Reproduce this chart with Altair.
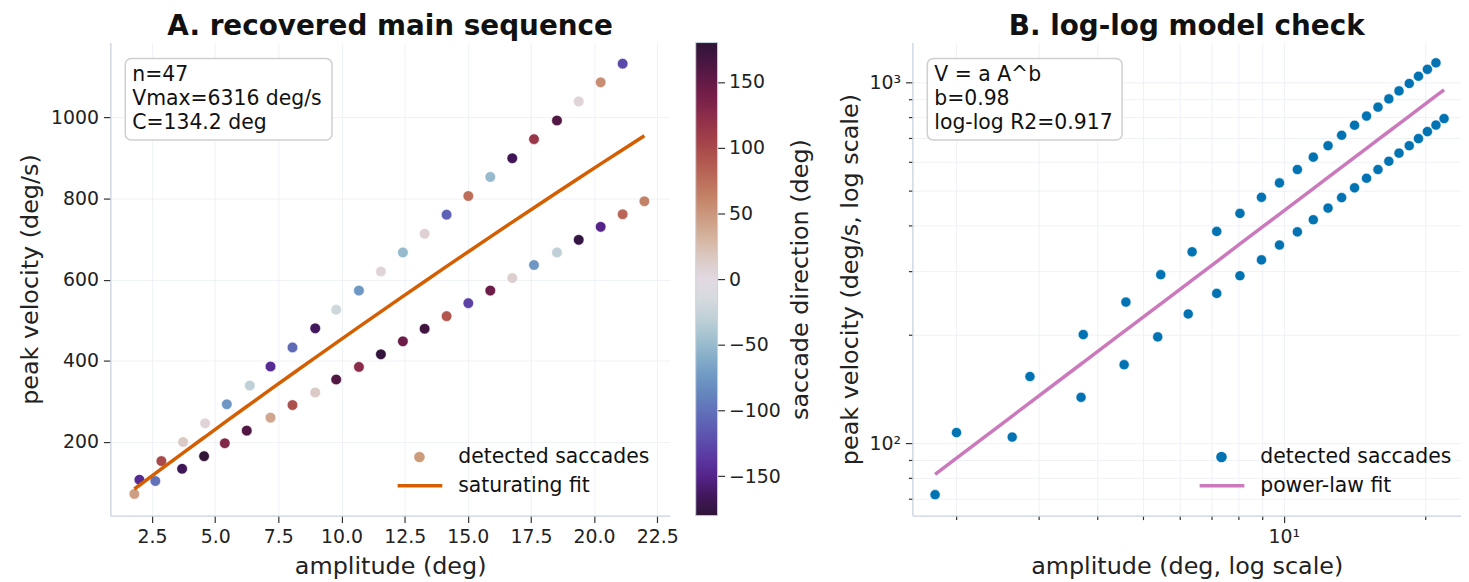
import altair as alt
import pandas as pd
import numpy as np

# ---------------- data ----------------
lower_amp = [1.80, 2.63, 3.69, 4.56, 5.38, 6.25, 7.19, 8.06, 8.96, 9.79, 10.69, 11.56,
             12.43, 13.29, 14.16, 15.02, 15.89, 16.76, 17.62, 18.53, 19.39, 20.26, 21.13, 21.99]
lower_vel = [72, 104, 134, 165, 197, 228, 260, 291, 322, 354, 385, 416,
             448, 479, 510, 542, 573, 604, 636, 667, 698, 730, 761, 793]
lower_dir = [45, -100, -168, 178, 130, 160, 40, 95, 15, 160, 125, -178,
             145, 170, 90, -130, 145, 10, -75, -30, -175, -150, 80, 62]

upper_amp = [2.00, 2.87, 3.73, 4.60, 5.46, 6.37, 7.19, 8.06, 8.96, 9.79, 10.69, 11.56,
             12.43, 13.29, 14.16, 15.02, 15.89, 16.76, 17.62, 18.53, 19.39, 20.26, 21.13]
upper_vel = [107, 153, 200, 246, 293, 339, 386, 433, 480, 526, 573, 620,
             667, 713, 760, 806, 853, 899, 946, 992, 1039, 1086, 1132]
upper_dir = [-145, 100, 15, 5, -75, -30, -145, -105, -165, -20, -75, 5,
             -50, 8, -110, 75, -50, -168, 115, 160, 5, 55, -125]

# fit parameters printed in the panels
VMAX = 6316.0
C_DEG = 134.2
PL_A = 46.1
PL_B = 0.98

# twilight_shifted-like colour map
DIR_STOPS = [-180, -165, -150, -135, -120, -105, -90, -75, -60, -45, -30, -15, 0,
             15, 30, 45, 60, 75, 90, 105, 120, 135, 150, 165, 180]
CMAP = ["#2f1437", "#42175c", "#55248a", "#5b3aa2", "#5d52ae", "#5f6ab7", "#6481bd",
        "#6e97c3", "#85adc9", "#a2c1cf", "#bfd0d7", "#d6dadf", "#e2d9e2",
        "#dccac6", "#d6b6a2", "#cd9e84", "#c5866b", "#bc6e5b", "#b1574f", "#a34249",
        "#923149", "#7c2249", "#641a47", "#481741", "#2f1437"]

X_TICKS = [2.5, 5.0, 7.5, 10.0, 12.5, 15.0, 17.5, 20.0, 22.5]
Y_TICKS = [200, 400, 600, 800, 1000]
CB_TICKS = [-150, -100, -50, 0, 50, 100, 150]
LX_TICKS = [2, 3, 4, 5, 6, 7, 8, 9, 10, 20]
LY_TICKS = [70, 80, 90, 100, 200, 300, 400, 500, 600, 700, 800, 900, 1000]

ANNOT_A = ["n=47", "Vmax=6316 deg/s", "C=134.2 deg"]
ANNOT_B = ["V = a A^b", "b=0.98", "log-log R2=0.917"]

df = pd.DataFrame({
    "amp": lower_amp + upper_amp,
    "vel": lower_vel + upper_vel,
    "dir": lower_dir + upper_dir,
})
amps = sorted(df["amp"].tolist())
fit_sat = pd.DataFrame({"amp": amps, "vel": [VMAX * (1 - np.exp(-a / C_DEG)) for a in amps]})
fit_pl = pd.DataFrame({"amp": amps, "vel": [PL_A * a ** PL_B for a in amps]})
one = pd.DataFrame({"k": [0]})

FONT = "DejaVu Sans"
ORANGE = "#d55e00"
BLUE = "#0173b2"
PINK = "#cc78bc"
SPINE = "#c8d2df"
GRID = "#eef1f6"

TXT = 20.5   # legend / annotation text
TICK = 19    # tick labels
ATITLE = 24  # axis titles
PTITLE = 28  # panel titles

color_scale = alt.Scale(domain=DIR_STOPS, range=CMAP, interpolate="rgb")

W1, H = 563, 476
W2 = 552


def title(t):
    return alt.TitleParams(t, fontSize=PTITLE, fontWeight="bold", font=FONT, anchor="middle",
                           offset=2, color="#111")


def annot_box(lines, w):
    box = alt.Chart(one).mark_rect(fill="white", stroke="#cfcfcf", strokeWidth=1.5,
                                   cornerRadius=6).encode(
        x=alt.value(15), x2=alt.value(15 + w), y=alt.value(16), y2=alt.value(98))
    txt = alt.Chart(one).mark_text(align="left", baseline="alphabetic", fontSize=TXT, font=FONT,
                                   lineHeight=24, color="#111").encode(
        x=alt.value(22), y=alt.value(39), text=alt.value(lines))
    return box + txt


def legend(sym_color, line_color, label1, label2):
    dot = alt.Chart(one).mark_point(shape="circle", filled=True, size=115, opacity=1,
                                    color=sym_color).encode(
        x=alt.value(311), y=alt.value(417))
    ln = alt.Chart(one).mark_rule(color=line_color, strokeWidth=3.5).encode(
        x=alt.value(289), x2=alt.value(334), y=alt.value(446))
    t1 = alt.Chart(one).mark_text(align="left", baseline="middle", fontSize=TXT, font=FONT,
                                  color="#111").encode(
        x=alt.value(350), y=alt.value(417), text=alt.value(label1))
    t2 = alt.Chart(one).mark_text(align="left", baseline="middle", fontSize=TXT, font=FONT,
                                  color="#111").encode(
        x=alt.value(350), y=alt.value(446), text=alt.value(label2))
    return dot + ln + t1 + t2


# ---------------- panel A ----------------
xA = alt.X("amp:Q", scale=alt.Scale(domain=[0.85, 23.0], nice=False, zero=False),
           axis=alt.Axis(values=X_TICKS, format=".1f", title="amplitude (deg)"))
yA = alt.Y("vel:Q", scale=alt.Scale(domain=[18.6, 1184], nice=False, zero=False),
           axis=alt.Axis(values=Y_TICKS, format="d", title="peak velocity (deg/s)"))

ptsA = alt.Chart(df).mark_point(shape="circle", filled=True, size=115, opacity=1,
                                stroke="white", strokeWidth=0.6).encode(
    x=xA, y=yA, fill=alt.Fill("dir:Q", scale=color_scale, legend=None))
lineA = alt.Chart(fit_sat).mark_line(color=ORANGE, strokeWidth=3.5).encode(x=xA, y=yA)

panelA = alt.layer(
    ptsA, lineA,
    annot_box(ANNOT_A, 208),
    legend("#cc9c7c", ORANGE, "detected saccades", "saturating fit"),
).properties(width=W1, height=H, title=title("A. recovered main sequence"))

# ---------------- colour bar ----------------
stops = [alt.GradientStop(offset=(d + 180) / 360, color=c) for d, c in zip(DIR_STOPS, CMAP)]
cbar = alt.Chart(pd.DataFrame({"lo": [-180], "hi": [180]})).mark_rect(
    fill=alt.Gradient(gradient="linear", stops=stops, x1=0, x2=0, y1=1, y2=0),
    stroke=SPINE, strokeWidth=1).encode(
    x=alt.value(0), x2=alt.value(22),
    y=alt.Y("lo:Q", scale=alt.Scale(domain=[-180, 180], nice=False),
            axis=alt.Axis(orient="right", values=CB_TICKS, format="d", grid=False,
                          domain=False, title="saccade direction (deg)", titleAngle=270,
                          titleBaseline="top", titlePadding=8, labelPadding=4)),
    y2="hi:Q",
).properties(width=22, height=H,
             title=alt.TitleParams(" ", fontSize=PTITLE, fontWeight="bold", font=FONT, offset=2))

# ---------------- panel B ----------------
xB = alt.X("amp:Q", scale=alt.Scale(type="log", domain=[1.61, 23.9], nice=False),
           axis=alt.Axis(values=LX_TICKS, title="amplitude (deg, log scale)",
                         labelExpr="datum.value == 10 ? '10\u00b9' : ''",
                         tickSize={"condition": {"test": "datum.value == 10", "value": 7},
                                   "value": 4}))
yB = alt.Y("vel:Q", scale=alt.Scale(type="log", domain=[63, 1288], nice=False),
           axis=alt.Axis(values=LY_TICKS, title="peak velocity (deg/s, log scale)",
                         titlePadding=6,
                         labelExpr="datum.value == 100 ? '10\u00b2' : datum.value == 1000 ? '10\u00b3' : ''",
                         tickSize={"condition": {"test": "datum.value == 100 || datum.value == 1000",
                                                 "value": 7}, "value": 4}))

ptsB = alt.Chart(df).mark_point(shape="circle", filled=True, size=105, opacity=1,
                                color=BLUE, stroke="white", strokeWidth=0.6).encode(x=xB, y=yB)
lineB = alt.Chart(fit_pl).mark_line(color=PINK, strokeWidth=3.5).encode(x=xB, y=yB)

panelB = alt.layer(
    ptsB, lineB,
    annot_box(ANNOT_B, 196),
    legend(BLUE, PINK, "detected saccades", "power-law fit"),
).properties(width=W2, height=H, title=title("B. log-log model check"))

chart = alt.hconcat(
    alt.hconcat(panelA, cbar, spacing=16),
    panelB,
    spacing=26,
    background="white",
    padding={"left": 10, "top": 2, "right": 0, "bottom": 0},
).configure_view(stroke=None).configure_axis(
    labelFont=FONT, titleFont=FONT, labelFontSize=TICK, titleFontSize=ATITLE,
    titleFontWeight="normal", labelColor="#222", titleColor="#222",
    tickColor="#333", tickSize=7, tickWidth=1.2, labelPadding=5,
    domainColor=SPINE, domainWidth=1.3, gridColor=GRID, gridWidth=1,
    titlePadding=8,
)

chart.save("out.html", embed_options={"renderer": "svg", "actions": False})
